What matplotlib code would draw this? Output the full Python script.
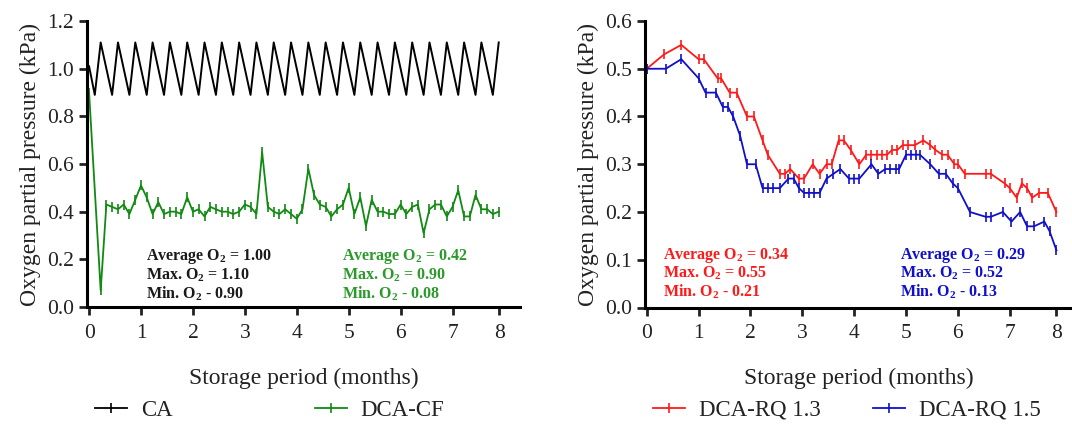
import matplotlib
matplotlib.use("Agg")
import matplotlib.pyplot as plt
from matplotlib.lines import Line2D

plt.rcParams['font.family'] = ['Liberation Serif', 'DejaVu Serif']
plt.rcParams['mathtext.fontset'] = 'custom'
plt.rcParams['mathtext.rm'] = 'Liberation Serif'
plt.rcParams['mathtext.bf'] = 'Liberation Serif:bold'

# x axis is in days, labelled in months
month_ticks = [0, 30, 60, 90, 120, 150, 180, 210, 237]
month_labels = ['0', '1', '2', '3', '4', '5', '6', '7', '8']

# --- left panel ---
grid_days = [0, 3.3, 6.7, 10, 13.3, 16.7, 20, 23.3, 26.7, 30, 33.3, 36.7, 40, 43.3, 46.7,
             50, 53.3, 56.7, 60, 63.3, 66.7, 70, 73.3, 76.7, 80, 83.3, 86.7, 90, 93.3,
             96.7, 100, 103.3, 106.7, 110, 113.3, 116.7, 120, 123.3, 126.7, 130, 133.3,
             136.7, 140, 143.3, 146.7, 150, 153.3, 156.7, 160, 163.3, 166.7, 170, 173.3,
             176.7, 180, 183.3, 186.7, 190, 193.3, 196.7, 200, 203.3, 206.7, 210, 213.3,
             216.7, 220, 223.3, 226.7, 230, 233.3, 236.7]
ca = [1.01, 0.89, 1.11, 1.0, 0.89, 1.11, 1.0, 0.89, 1.11, 1.0, 0.89, 1.11, 1.0, 0.89, 1.11,
      1.0, 0.89, 1.11, 1.0, 0.89, 1.11, 1.0, 0.89, 1.11, 1.0, 0.89, 1.11, 1.0, 0.89, 1.11,
      1.0, 0.89, 1.11, 1.0, 0.89, 1.11, 1.0, 0.89, 1.11, 1.0, 0.89, 1.11, 1.0, 0.89, 1.11,
      1.0, 0.89, 1.11, 1.0, 0.89, 1.11, 1.0, 0.89, 1.11, 1.0, 0.89, 1.11, 1.0, 0.89, 1.11,
      1.0, 0.89, 1.11, 1.0, 0.89, 1.11, 1.0, 0.89, 1.11, 1.0, 0.89, 1.11]

cf_days = [0, 6.7, 10, 13.3, 16.7, 20, 23.3, 26.7, 30, 33.3, 36.7, 40, 43.3, 46.7,
           50, 53.3, 56.7, 60, 63.3, 66.7, 70, 73.3, 76.7, 80, 83.3, 86.7, 90, 93.3,
           96.7, 100, 103.3, 106.7, 110, 113.3, 116.7, 120, 123.3, 126.7, 130, 133.3,
           136.7, 140, 143.3, 146.7, 150, 153.3, 156.7, 160, 163.3, 166.7, 170, 173.3,
           176.7, 180, 183.3, 186.7, 190, 193.3, 196.7, 200, 203.3, 206.7, 210, 213.3,
           216.7, 220, 223.3, 226.7, 230, 233.3, 236.7]
dca_cf = [0.90, 0.07, 0.43, 0.42, 0.41, 0.43, 0.39, 0.45, 0.51, 0.46, 0.39, 0.44, 0.39, 0.40,
          0.40, 0.39, 0.46, 0.40, 0.41, 0.38, 0.42, 0.41, 0.40, 0.40, 0.39, 0.40, 0.43, 0.42,
          0.39, 0.65, 0.42, 0.40, 0.39, 0.41, 0.39, 0.37, 0.41, 0.58, 0.47, 0.43, 0.42, 0.38,
          0.41, 0.43, 0.50, 0.39, 0.46, 0.34, 0.45, 0.40, 0.40, 0.39, 0.39, 0.43, 0.39, 0.42,
          0.43, 0.31, 0.41, 0.43, 0.43, 0.38, 0.42, 0.49, 0.38, 0.38, 0.47, 0.41, 0.41, 0.39,
          0.40]

# --- right panel ---
rq13_days = [0, 10, 20, 30, 33, 41, 43, 48, 52, 58, 62, 67, 70, 77, 80, 83, 88, 91, 96, 100,
             104, 107, 111, 114, 118, 123, 127, 130, 133, 136, 139, 142, 145, 148, 151, 155,
             160, 164, 167, 171, 174, 178, 180, 184, 196, 199, 207, 210, 214, 217, 220, 223,
             227, 232, 237]
rq13 = [0.50, 0.53, 0.55, 0.52, 0.52, 0.48, 0.48, 0.45, 0.45, 0.40, 0.40, 0.35, 0.32, 0.28,
        0.28, 0.29, 0.27, 0.27, 0.30, 0.28, 0.30, 0.30, 0.35, 0.35, 0.33, 0.30, 0.32, 0.32,
        0.32, 0.32, 0.32, 0.33, 0.33, 0.34, 0.34, 0.34, 0.35, 0.34, 0.33, 0.32, 0.32, 0.30,
        0.30, 0.28, 0.28, 0.28, 0.26, 0.25, 0.23, 0.26, 0.25, 0.23, 0.24, 0.24, 0.20]

rq15_days = [0, 11, 20, 30, 34, 40, 44, 47, 50, 54, 58, 63, 67, 70, 73, 77, 82, 85, 88, 91,
             94, 97, 100, 104, 108, 112, 117, 120, 123, 130, 134, 138, 141, 144, 146, 150,
             153, 156, 158, 164, 169, 173, 177, 180, 187, 196, 199, 206, 211, 216, 220, 224,
             230, 233, 237]
rq15 = [0.50, 0.50, 0.52, 0.48, 0.45, 0.45, 0.42, 0.42, 0.40, 0.36, 0.30, 0.30, 0.25, 0.25,
        0.25, 0.25, 0.27, 0.27, 0.25, 0.24, 0.24, 0.24, 0.24, 0.27, 0.28, 0.29, 0.27, 0.27,
        0.27, 0.30, 0.28, 0.29, 0.29, 0.29, 0.29, 0.32, 0.32, 0.32, 0.32, 0.30, 0.28, 0.28,
        0.26, 0.25, 0.20, 0.19, 0.19, 0.20, 0.18, 0.20, 0.17, 0.17, 0.18, 0.16, 0.12]

GREEN = '#118a11'
GREEN_TXT = '#2a9a2a'
RED = '#ff1a1a'
BLUE = '#1010c8'

fig = plt.figure(figsize=(10.72, 4.30), dpi=100)
ax1 = fig.add_axes([87 / 1072, 123 / 430, 433 / 1072, 286 / 430])
ax2 = fig.add_axes([645 / 1072, 122.5 / 430, 427 / 1072, 286.5 / 430])

line_kw = dict(lw=1.3, marker='|', ms=6.5, mew=1.2)
# the CA zigzag hides its symbols, so the line is drawn plain
ax1.plot(grid_days, ca, color='black', lw=1.4)
h_ca = Line2D([], [], color='black', label='CA', **line_kw)
h_cf, = ax1.plot(cf_days, dca_cf, color=GREEN, label='DCA-CF', **line_kw)
h_13, = ax2.plot(rq13_days, rq13, color=RED, label='DCA-RQ 1.3', **line_kw)
h_15, = ax2.plot(rq15_days, rq15, color=BLUE, label='DCA-RQ 1.5', **line_kw)

for ax, ymax, step, xr in [(ax1, 1.2, 0.2, (-1.2, 249)), (ax2, 0.6, 0.1, (-1.0, 246))]:
    ax.set_xlim(*xr)
    ax.set_ylim(0, ymax)
    ax.set_yticks([round(i * step, 1) for i in range(7)])
    ax.yaxis.set_major_formatter(matplotlib.ticker.FormatStrFormatter('%.1f'))
    ax.set_xticks(month_ticks)
    ax.set_xticklabels(month_labels)
    for s in ['top', 'right']:
        ax.spines[s].set_visible(False)
    for s in ['left', 'bottom']:
        ax.spines[s].set_linewidth(2.2)
    ax.tick_params(direction='out', length=6, width=2, labelsize=15.5, colors='#222222')
    ax.tick_params(axis='x', pad=6)
    ax.set_xlabel('Storage period (months)', fontsize=17, color='#222222', labelpad=18)
    ax.set_ylabel('Oxygen partial pressure (kPa)', fontsize=17, color='#222222', labelpad=4)

ann_kw = dict(fontsize=11.5, fontweight='bold', va='center', ha='left')
sub = r'O$_\mathbf{2}$'


def stats(ax, x, ys, lines, color):
    for y, t in zip(ys, lines):
        ax.text(x, y, t, color=color, transform=ax.transAxes, **ann_kw)


stats(ax1, 0.136, [0.176, 0.112, 0.047],
      ['Average ' + sub + ' = 1.00', 'Max. ' + sub + ' = 1.10', 'Min. ' + sub + ' - 0.90'], '#1a1a1a')
stats(ax1, 0.588, [0.176, 0.112, 0.047],
      ['Average ' + sub + ' = 0.42', 'Max. ' + sub + ' = 0.90', 'Min. ' + sub + ' - 0.08'], GREEN_TXT)
stats(ax2, 0.043, [0.18, 0.119, 0.055],
      ['Average ' + sub + ' = 0.34', 'Max. ' + sub + ' = 0.55', 'Min. ' + sub + ' - 0.21'], RED)
stats(ax2, 0.597, [0.18, 0.119, 0.055],
      ['Average ' + sub + ' = 0.29', 'Max. ' + sub + ' = 0.52', 'Min. ' + sub + ' - 0.13'], BLUE)

leg_kw = dict(frameon=False, ncol=2, fontsize=16.5, handlelength=1.4, handletextpad=0.6,
              borderpad=0, borderaxespad=0, loc='center left', markerscale=1.0,
              bbox_transform=fig.transFigure, labelcolor='#222222')
fig.legend(handles=[h_ca, h_cf], bbox_to_anchor=(95 / 1072, 1 - 410 / 430),
           columnspacing=6.2, **leg_kw)
fig.legend(handles=[h_13, h_15], bbox_to_anchor=(653 / 1072, 1 - 410 / 430),
           columnspacing=2.3, **leg_kw)

fig.savefig('out.png', dpi=100)
